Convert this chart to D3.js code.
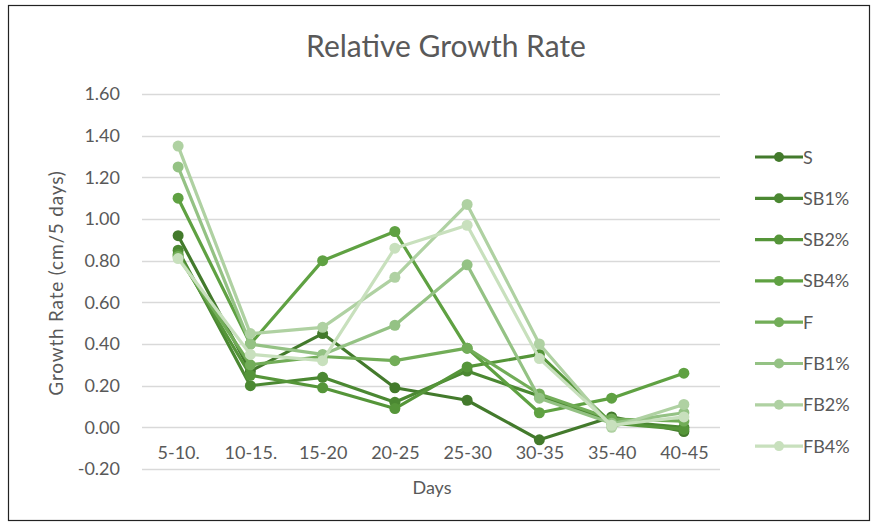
<!DOCTYPE html>
<html>
<head>
<meta charset="utf-8">
<script src="https://cdn.jsdelivr.net/npm/d3@7"></script>
<style>
  html, body { margin: 0; padding: 0; background: #fff; }
  svg { display: block; }
  text { font-family: Lato, "Open Sans", sans-serif; fill: #595959; }
</style>
</head>
<body>
<svg id="chart" width="877" height="527"></svg>
<script>
// Growth-period categories (days)
const categories = ["5-10.", "10-15.", "15-20", "20-25", "25-30", "30-35", "35-40", "40-45"];

// Relative growth rate per treatment (cm / 5 days)
const seriesNames = ["S", "SB1%", "SB2%", "SB4%", "F", "FB1%", "FB2%", "FB4%"];
const valuesS    = [0.92, 0.27, 0.45, 0.19, 0.13, -0.06, 0.05, -0.02];
const valuesSB1  = [0.85, 0.20, 0.24, 0.12, 0.27, 0.15, 0.03, 0.00];
const valuesSB2  = [0.83, 0.25, 0.19, 0.09, 0.29, 0.35, 0.02, -0.01];
const valuesSB4  = [1.10, 0.40, 0.80, 0.94, 0.38, 0.07, 0.14, 0.26];
const valuesF    = [0.82, 0.30, 0.34, 0.32, 0.38, 0.16, 0.04, 0.03];
const valuesFB1  = [1.25, 0.40, 0.35, 0.49, 0.78, 0.14, 0.02, 0.07];
const valuesFB2  = [1.35, 0.45, 0.48, 0.72, 1.07, 0.40, 0.00, 0.11];
const valuesFB4  = [0.81, 0.35, 0.32, 0.86, 0.97, 0.33, 0.01, 0.05];

const yTicks = [-0.2, 0, 0.2, 0.4, 0.6, 0.8, 1.0, 1.2, 1.4, 1.6];
const seriesColors = ["#437a2c", "#4b8832", "#559539", "#5fa142", "#72ad58", "#94c284", "#afd1a2", "#c8e0bd"];

const allValues = [valuesS, valuesSB1, valuesSB2, valuesSB4, valuesF, valuesFB1, valuesFB2, valuesFB4];
const series = seriesNames.map((name, i) => ({ name, color: seriesColors[i], values: allValues[i] }));

const svg = d3.select("#chart");
const FONT = "Lato, 'Open Sans', sans-serif";

// outer frame
svg.append("rect")
  .attr("x", 8.5).attr("y", 5.5).attr("width", 861).attr("height", 515)
  .attr("fill", "#fff").attr("stroke", "#222").attr("stroke-width", 1.2);

const plot = { left: 142, right: 720, top: 94, bottom: 469 };

const x = d3.scalePoint().domain(categories).range([plot.left, plot.right]).padding(0.5);
const y = d3.scaleLinear().domain([-0.2, 1.6]).range([plot.bottom, plot.top]);

// horizontal gridlines
svg.append("g").selectAll("line").data(yTicks).join("line")
  .attr("x1", plot.left).attr("x2", plot.right)
  .attr("y1", d => Math.round(y(d)) + 0.5).attr("y2", d => Math.round(y(d)) + 0.5)
  .attr("stroke", "#d9d9d9").attr("stroke-width", 1.3);

// y axis tick labels (plain hyphen for negatives)
const fmt = d3.format(".2f");
const yAxis = d3.axisLeft(y).tickValues(yTicks)
  .tickFormat(d => fmt(d).replace("\u2212", "-")).tickSize(0).tickPadding(0);
const yg = svg.append("g").attr("transform", "translate(120,0)").call(yAxis);
yg.select(".domain").remove();
yg.selectAll("text").attr("font-size", 18).attr("fill", "#595959").style("font-family", FONT);

// x axis category labels
const xAxis = d3.axisBottom(x).tickSize(0).tickPadding(0);
const xg = svg.append("g").attr("transform", `translate(0,${y(0) + 19})`).call(xAxis);
xg.select(".domain").remove();
xg.selectAll("text").attr("font-size", 18).attr("fill", "#595959").style("font-family", FONT);

// title
svg.append("text").attr("x", 446).attr("y", 57).attr("text-anchor", "middle")
  .attr("font-size", 30).text("Relative Growth Rate");

// axis titles
svg.append("text").attr("x", 432).attr("y", 494).attr("text-anchor", "middle")
  .attr("font-size", 18).text("Days");
svg.append("text").attr("transform", "translate(63,283) rotate(-90)").attr("text-anchor", "middle")
  .attr("font-size", 19).attr("letter-spacing", 0.8).text("Growth Rate (cm/5 days)");

// lines and markers
const line = d3.line().x((d, i) => x(categories[i])).y(d => y(d));
const gSeries = svg.append("g").selectAll("g").data(series).join("g");
gSeries.append("path")
  .attr("d", d => line(d.values))
  .attr("fill", "none").attr("stroke", d => d.color)
  .attr("stroke-width", 3.2).attr("stroke-linejoin", "round");
gSeries.selectAll("circle").data(d => d.values.map(v => ({ v, color: d.color })))
  .join("circle")
  .attr("cx", (d, i) => x(categories[i])).attr("cy", d => y(d.v))
  .attr("r", 5.5).attr("fill", d => d.color);

// legend
const legend = svg.append("g").selectAll("g").data(series).join("g")
  .attr("transform", (d, i) => `translate(755,${157 + i * 41.3})`);
legend.append("line").attr("x1", 0).attr("x2", 48).attr("y1", 0).attr("y2", 0)
  .attr("stroke", d => d.color).attr("stroke-width", 3.2);
legend.append("circle").attr("cx", 24).attr("cy", 0).attr("r", 5).attr("fill", d => d.color);
legend.append("text").attr("x", 48).attr("y", 6.5).attr("font-size", 18).text(d => d.name);
</script>
</body>
</html>
